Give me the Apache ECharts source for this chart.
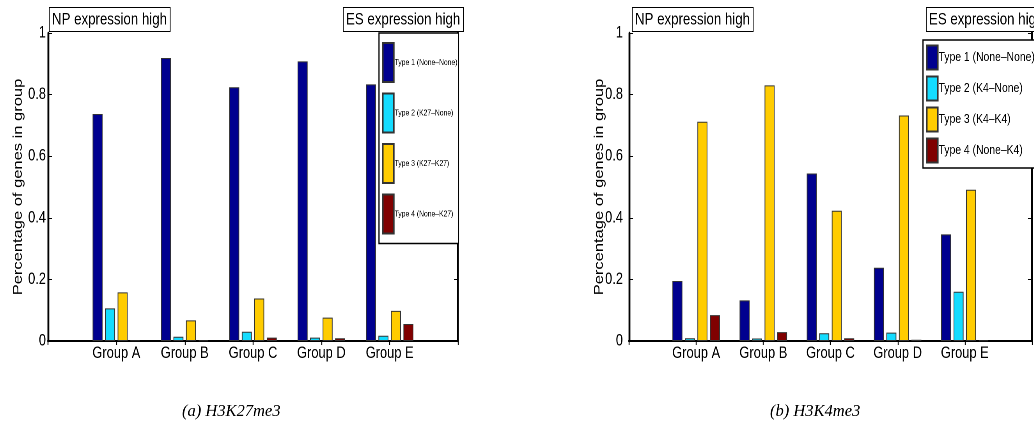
<!DOCTYPE html>
<html>
<head>
<meta charset="utf-8">
<script src="https://cdn.jsdelivr.net/npm/echarts@6/dist/echarts.min.js"></script>
<style>
html,body{margin:0;padding:0;background:#fff;overflow:hidden;width:1034px;height:425px;}
#wrap{width:1034px;height:425px;overflow:hidden;position:relative;}
#chart{height:425px;position:absolute;left:0;top:0;transform-origin:0 0;}
</style>
</head>
<body>
<div id="wrap"><div id="chart"></div></div>
<script>
// ---------- data ----------
const groups = ['Group A', 'Group B', 'Group C', 'Group D', 'Group E'];
const yTicks = [0, 0.2, 0.4, 0.6, 0.8, 1];

// (a) H3K27me3
const k27Names = ['Type 1 (None\u2013None)', 'Type 2 (K27\u2013None)', 'Type 3 (K27\u2013K27)', 'Type 4 (None\u2013K27)'];
const k27Type1 = [0.737, 0.919, 0.824, 0.908, 0.833];
const k27Type2 = [0.106, 0.014, 0.030, 0.011, 0.017];
const k27Type3 = [0.158, 0.067, 0.138, 0.076, 0.098];
const k27Type4 = [0.002, 0.002, 0.011, 0.009, 0.055];

// (b) H3K4me3
const k4Names = ['Type 1 (None\u2013None)', 'Type 2 (K4\u2013None)', 'Type 3 (K4\u2013K4)', 'Type 4 (None\u2013K4)'];
const k4Type1 = [0.195, 0.132, 0.544, 0.238, 0.346];
const k4Type2 = [0.009, 0.008, 0.025, 0.027, 0.160];
const k4Type3 = [0.712, 0.830, 0.423, 0.732, 0.491];
const k4Type4 = [0.084, 0.029, 0.009, 0.004, 0.002];

const captions = ['(a) H3K27me3', '(b) H3K4me3'];
const npLabel = 'NP expression high';
const esLabel = 'ES expression high';
const yName = 'Percentage of genes in group';
const colors = ['#00008F', '#14DCFF', '#FFCC00', '#800000'];

// ---------- layout helpers ----------
// The original figure is horizontally squeezed; draw in a wider space and squeeze with CSS.
const S = 0.78;
const X = v => v / S;
const W = Math.round(1034 / S);
const el = document.getElementById('chart');
el.style.width = W + 'px';
el.style.transform = 'scaleX(' + S + ')';

const SANS = '"Liberation Sans", Arial, Helvetica, sans-serif';
const SERIF = '"Liberation Serif", "DejaVu Serif", serif';
const cats = [''].concat(groups, ['']);
const pad = arr => ['-'].concat(arr, ['-']);

function axesFor(gi, labelMargin) {
  const xs = [
    {
      type: 'category', gridIndex: gi, data: cats, boundaryGap: false, position: 'bottom',
      axisLine: { lineStyle: { color: '#000', width: 2 } },
      axisTick: { show: false },
      axisLabel: { color: '#000', fontSize: 16.5, fontFamily: SANS, margin: 4, interval: 0 },
      splitLine: { show: false }
    },
    {
      type: 'category', gridIndex: gi, data: cats, boundaryGap: false, position: 'top',
      axisLine: { lineStyle: { color: '#000', width: 2 } },
      axisTick: { show: true, inside: true, length: 4, interval: 0, lineStyle: { color: '#000', width: 1.2 } },
      axisLabel: { show: false },
      splitLine: { show: false }
    }
  ];
  const ys = [
    {
      type: 'value', gridIndex: gi, min: 0, max: 1, interval: 0.2, position: 'left',
      name: yName, nameLocation: 'middle', nameGap: 38, nameMoveOverlap: false,
      nameTextStyle: { color: '#000', fontSize: 16.5, fontFamily: SANS, verticalAlign: 'middle' },
      axisLine: { show: true, lineStyle: { color: '#000', width: 2.4 } },
      axisTick: { show: true, inside: true, length: X(4), lineStyle: { color: '#000', width: 1 } },
      axisLabel: { color: '#000', fontSize: 16.5, fontFamily: SANS, margin: labelMargin,
        formatter: v => { const t = yTicks.find(x => Math.abs(x - v) < 1e-9); return t === undefined ? '' : String(t); } },
      splitLine: { show: false }
    },
    {
      type: 'value', gridIndex: gi, min: 0, max: 1, interval: 0.2, position: 'right',
      axisLine: { show: true, lineStyle: { color: '#000', width: 2.4 } },
      axisTick: { show: true, inside: true, length: X(4), lineStyle: { color: '#000', width: 1 } },
      axisLabel: { show: false },
      splitLine: { show: false }
    }
  ];
  return { xs, ys };
}

const a0 = axesFor(0, X(2)), a1 = axesFor(1, X(6));

function barSeries(names, datas, xi, yi) {
  return datas.map((d, i) => ({
    type: 'bar', name: names[i], xAxisIndex: xi, yAxisIndex: yi,
    data: pad(d), barWidth: X(10), barGap: '25%',
    itemStyle: { color: colors[i], borderColor: '#333', borderWidth: 1 },
    emphasis: { disabled: true }, animation: false
  }));
}

function boxTitle(text, left, top) {
  return {
    text: text, left: X(left), top: top, padding: [3, X(3), 2, X(3)],
    borderColor: '#000', borderWidth: 1, backgroundColor: '#fff',
    textStyle: { fontSize: 17, fontWeight: 'normal', color: '#000', fontFamily: SANS, lineHeight: 20 }
  };
}

const option = {
  animation: false,
  backgroundColor: '#fff',
  title: [
    boxTitle(npLabel, 49, 7),
    boxTitle(esLabel, 343, 7),
    boxTitle(npLabel, 632, 7),
    boxTitle(esLabel, 926, 7)
  ],
  graphic: [
    { type: 'text', x: X(182), y: 403, scaleX: 1 / S, silent: true,
      style: { text: captions[0], font: 'italic 16.5px ' + SERIF, fill: '#000' } },
    { type: 'text', x: X(770), y: 403, scaleX: 1 / S, silent: true,
      style: { text: captions[1], font: 'italic 16.5px ' + SERIF, fill: '#000' } }
  ],
  grid: [
    { left: X(48), top: 33, width: X(410), height: 308, containLabel: false },
    { left: X(629), top: 33, width: X(410), height: 308, containLabel: false }
  ],
  legend: [
    {
      data: k27Names, orient: 'vertical', left: X(379), top: 33,
      itemWidth: X(11), itemHeight: 39, itemGap: 9.5, padding: [9, X(1), 9, X(3)],
      borderColor: '#000', borderWidth: 1.5, backgroundColor: '#fff',
      icon: 'rect', selectedMode: false,
      textStyle: { fontSize: 8.7, color: '#000', fontFamily: SANS, padding: [0, 0, 0, -4] }
    },
    {
      data: k4Names, orient: 'vertical', left: X(923), top: 40,
      itemWidth: X(11), itemHeight: 24, itemGap: 5, padding: [4.5, X(1), 4.5, X(3)],
      borderColor: '#000', borderWidth: 1.5, backgroundColor: '#fff',
      icon: 'rect', selectedMode: false,
      textStyle: { fontSize: 13.3, color: '#000', fontFamily: SANS, padding: [0, 0, 0, -4] }
    }
  ],
  xAxis: a0.xs.concat(a1.xs),
  yAxis: a0.ys.concat(a1.ys),
  series: barSeries(k27Names, [k27Type1, k27Type2, k27Type3, k27Type4], 0, 0)
    .concat(barSeries(k4Names, [k4Type1, k4Type2, k4Type3, k4Type4], 2, 2))
};

const chart = echarts.init(el, null, { renderer: 'canvas', devicePixelRatio: 2 });
chart.setOption(option);
</script>
</body>
</html>
